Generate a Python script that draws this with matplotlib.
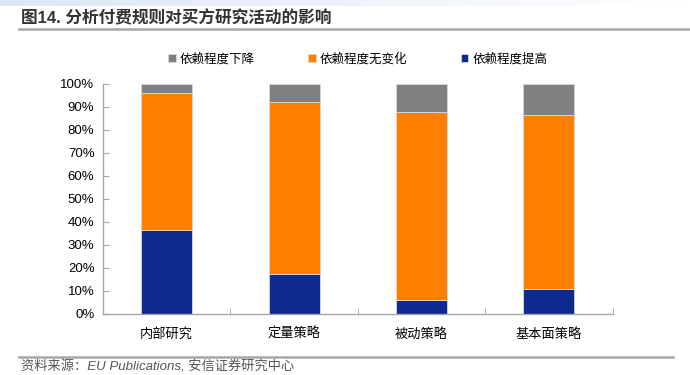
import numpy as np
import matplotlib
matplotlib.use('Agg')
from matplotlib import pyplot as plt

plt.rcParams['font.family'] = ['Liberation Sans', 'Noto Sans CJK SC', 'DejaVu Sans']

# 数据
categories = ['内部研究', '定量策略', '被动策略', '基本面策略']
rise = [36.5, 17.5, 6, 11]      # 依赖程度提高
flat = [59.5, 74.5, 82, 75.5]   # 依赖程度无变化
drop = [4, 8, 12, 13.5]         # 依赖程度下降
yticks = np.arange(0, 101, 10)

c_blue = '#0F2A8F'
c_orange = '#FF7F00'
c_grey = '#808080'

fig = plt.figure(figsize=(6.9, 3.75), dpi=100)

# 顶部渐变条
bg = fig.add_axes([0, 0.985, 1, 0.015])
grad = np.linspace(0, 1, 256).reshape(1, -1)
bg.imshow(grad, aspect='auto', cmap=matplotlib.colors.LinearSegmentedColormap.from_list(
    'g', ['#DCE6F5', '#EEF3FB', '#FFFFFF']))
bg.axis('off')

# 标题与分隔线
fig.text(0.030, 0.953, '图14. 分析付费规则对买方研究活动的影响', fontsize=12,
         color='#333333', fontweight='bold', va='center')
fig.add_artist(plt.Line2D([0.028, 1.0], [0.923, 0.923], color='#A6A6A6', lw=1.8))
fig.add_artist(plt.Line2D([0.028, 0.975], [0.047, 0.047], color='#A6A6A6', lw=1.8))
fig.text(0.030, 0.020, '资料来源：EU Publications, 安信证券研究中心', fontsize=9.5,
         color='#555555', style='italic', va='center')

ax = fig.add_axes([0.149, 0.163, 0.739, 0.613])
x = np.arange(len(categories))
w = 0.4
bottom2 = np.array(rise) + np.array(flat)
ax.bar(x, rise, w, color=c_blue, edgecolor='#D9D9D9', linewidth=0.6, label='依赖程度提高')
ax.bar(x, flat, w, bottom=rise, color=c_orange, edgecolor='#D9D9D9', linewidth=0.6, label='依赖程度无变化')
ax.bar(x, drop, w, bottom=bottom2, color=c_grey, edgecolor='#D9D9D9', linewidth=0.6, label='依赖程度下降')

ax.set_xlim(-0.5, len(categories) - 0.5)
ax.set_ylim(0, 100)
ax.set_yticks(yticks)
ax.set_yticklabels([f'{v}%' for v in yticks], fontsize=9.5)
ax.set_xticks(x)
ax.set_xticklabels(categories, fontsize=9.5)
ax.tick_params(axis='x', length=0, pad=10)
ax.set_xticks(np.arange(-0.5, len(categories)), minor=True)
ax.tick_params(axis='x', which='minor', length=4, color='#A6A6A6', direction='in')
ax.tick_params(axis='y', length=4, color='#A6A6A6', direction='in', pad=6)
for s in ['top', 'right']:
    ax.spines[s].set_visible(False)
for s in ['left', 'bottom']:
    ax.spines[s].set_color('#A6A6A6')
    ax.spines[s].set_linewidth(1.0)

h, l = ax.get_legend_handles_labels()
ax.legend(h[::-1], l[::-1], loc='lower center', bbox_to_anchor=(0.5, 1.03), ncol=3,
          frameon=False, fontsize=9, handlelength=0.6, handleheight=0.6,
          handletextpad=0.3, columnspacing=4.3)

fig.savefig('out.png', dpi=100)
